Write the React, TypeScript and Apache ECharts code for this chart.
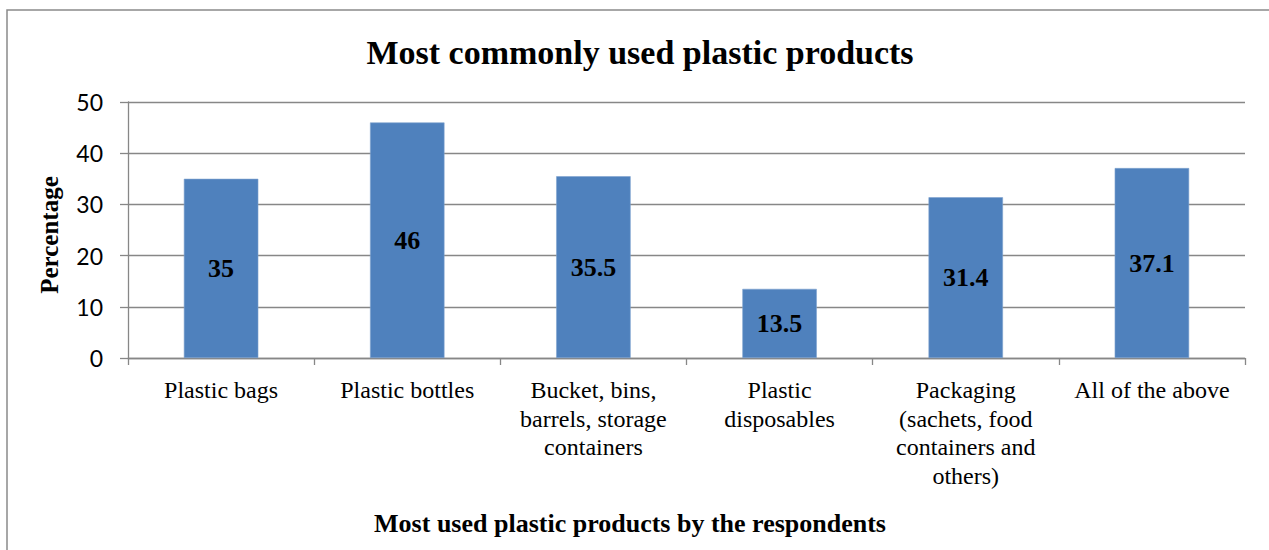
import React, { useEffect, useRef } from "react";
import * as echarts from "echarts";

const categories = [
  "Plastic bags",
  "Plastic bottles",
  "Bucket, bins,\nbarrels, storage\ncontainers",
  "Plastic\ndisposables",
  "Packaging\n(sachets, food\ncontainers and\nothers)",
  "All of the above",
];
const percentages = [35, 46, 35.5, 13.5, 31.4, 37.1];
const yTicks = [0, 10, 20, 30, 40, 50];

const chartTitle = "Most commonly used plastic products";
const xAxisTitle = "Most used plastic products by the respondents";
const yAxisTitle = "Percentage";

const SERIF = "'Liberation Serif', 'Times New Roman', serif";
const SANS = "Lato, 'Open Sans', sans-serif";
const GRID_COLOR = "#878787";

export default function App() {
  const ref = useRef<HTMLDivElement>(null);

  useEffect(() => {
    if (!ref.current) return;
    const chart = echarts.init(ref.current, null, { renderer: "svg" });
    chart.setOption({
      animation: false,
      backgroundColor: "#ffffff",
      grid: { left: 128, right: 24, top: 102, bottom: 192, containLabel: false },
      xAxis: {
        type: "category",
        data: categories,
        axisLine: { show: true, lineStyle: { color: GRID_COLOR, width: 1.3 } },
        axisTick: { show: true, length: 7, alignWithLabel: false, lineStyle: { color: GRID_COLOR, width: 1.3 } },
        axisLabel: {
          interval: 0,
          margin: 18,
          color: "#000",
          fontFamily: SERIF,
          fontSize: 24,
          lineHeight: 28.5,
          align: "center",
        },
        splitLine: { show: false },
      },
      yAxis: {
        type: "value",
        min: yTicks[0],
        max: yTicks[yTicks.length - 1],
        interval: 10,
        axisLine: { show: true, lineStyle: { color: GRID_COLOR, width: 1.3 } },
        axisTick: { show: true, length: 8, lineStyle: { color: GRID_COLOR, width: 1.3 } },
        axisLabel: {
          margin: 25,
          color: "#000",
          fontFamily: SANS,
          fontSize: 23,
        },
        splitLine: { show: true, lineStyle: { color: GRID_COLOR, width: 1.3 } },
      },
      series: [
        {
          type: "bar",
          data: percentages,
          barWidth: "40%",
          itemStyle: { color: "#4F81BD", borderColor: "#7FA3CF", borderWidth: 0.6 },
          label: {
            show: true,
            position: "inside",
            color: "#000",
            fontFamily: SERIF,
            fontWeight: "bold",
            fontSize: 26,
            formatter: (p: any) => String(p.value),
          },
        },
      ],
      graphic: [
        {
          type: "rect",
          shape: { x: 7, y: 10, width: 1300, height: 600 },
          style: { fill: "none", stroke: "#8a8a8a", lineWidth: 1.5 },
          silent: true,
          z: -10,
        },
        {
          type: "text",
          x: 640,
          y: 52,
          style: {
            text: chartTitle,
            fill: "#000",
            font: `bold 34px ${SERIF}`,
            textAlign: "center",
            textVerticalAlign: "middle",
          },
        },
        {
          type: "text",
          x: 630,
          y: 523,
          style: {
            text: xAxisTitle,
            fill: "#000",
            font: `bold 26px ${SERIF}`,
            textAlign: "center",
            textVerticalAlign: "middle",
          },
        },
        {
          type: "text",
          x: 49,
          y: 235,
          rotation: Math.PI / 2,
          style: {
            text: yAxisTitle,
            fill: "#000",
            font: `bold 25px ${SERIF}`,
            textAlign: "center",
            textVerticalAlign: "middle",
          },
        },
      ],
    });
    return () => chart.dispose();
  }, []);

  return (
    <div
      ref={ref}
      style={{ position: "fixed", left: 0, top: 0, width: 1269, height: 550, background: "#fff" }}
    />
  );
}
